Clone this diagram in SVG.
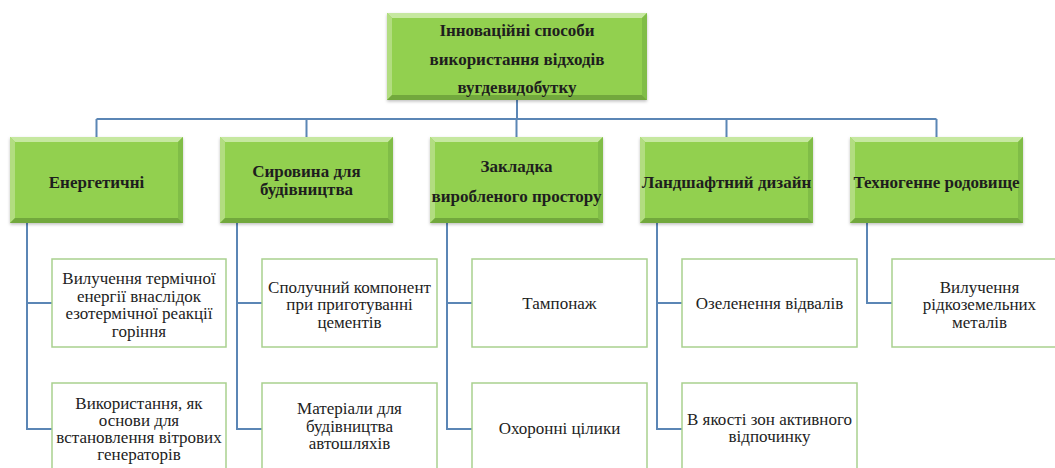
<svg xmlns="http://www.w3.org/2000/svg" width="1055" height="468" viewBox="0 0 1055 468">
<style>
.bg{fill:#ffffff}
.conn{fill:none;stroke:#5b86b5;stroke-width:2}
.gbox{fill:#92d050}
.bt{fill:#c6e8a0}.bl{fill:#b2dd80}.br{fill:#80bd47}.bb{fill:#72a83c}
.h{font-weight:bold;font-size:17px;fill:#1e1e1e;text-anchor:middle}
.wbox{fill:#ffffff;stroke:#a9d18e;stroke-width:1.5}
.t{font-size:17px;fill:#222222;text-anchor:middle}
</style>
<defs>
<filter id="sh" x="-10%" y="-10%" width="120%" height="130%">
<feDropShadow dx="0" dy="1.5" stdDeviation="1.5" flood-color="#000000" flood-opacity="0.25"/>
</filter>
<g id="bev">
<rect class="gbox" x="0" y="0" width="173" height="86"/>
<polygon class="bt" points="0,0 173,0 168,5 5,5"/>
<polygon class="bl" points="0,0 5,5 5,81 0,86"/>
<polygon class="br" points="173,0 173,86 168,81 168,5"/>
<polygon class="bb" points="0,86 173,86 168,81 5,81"/>
</g>
</defs>
<rect class="bg" x="0" y="0" width="1055" height="468"/>
<g id="connectors">
<path class="conn" d="M517,100 V119 M96.5,119 H936.5 M96.5,119 V137 M306.5,119 V137 M516.5,119 V137 M726.5,119 V137 M936.5,119 V137"/>
<path class="conn" d="M27,223 V429 H52 M27,303 H52"/>
<path class="conn" d="M237,223 V429 H262 M237,303 H262"/>
<path class="conn" d="M447,223 V429 H472 M447,303 H472"/>
<path class="conn" d="M657,223 V429 H682 M657,303 H682"/>
<path class="conn" d="M867,223 V303 H892"/>
</g>
<g font-family="Liberation Serif, Times New Roman, DejaVu Serif, serif">
<g id="root">
<g filter="url(#sh)">
<rect class="gbox" x="387" y="13" width="260" height="87"/>
<polygon class="bt" points="387,13 647,13 642,18 392,18"/>
<polygon class="bl" points="387,13 392,18 392,95 387,100"/>
<polygon class="br" points="647,13 647,100 642,95 642,18"/>
<polygon class="bb" points="387,100 647,100 642,95 392,95"/>
</g>
<text class="h" x="517" y="36">Інноваційні способи</text>
<text class="h" x="517" y="65">використання відходів</text>
<text class="h" x="517" y="93">вугдевидобутку</text>
</g>
<g id="n1">
<use href="#bev" x="10" y="137" filter="url(#sh)"/>
<text class="h" x="96.5" y="188">Енергетичні</text>
</g>
<g id="n2">
<use href="#bev" x="220" y="137" filter="url(#sh)"/>
<text class="h" x="306.5" y="177">Сировина для</text>
<text class="h" x="306.5" y="195">будівництва</text>
</g>
<g id="n3">
<use href="#bev" x="430" y="137" filter="url(#sh)"/>
<text class="h" x="516.5" y="172">Закладка</text>
<text class="h" x="516.5" y="202">виробленого простору</text>
</g>
<g id="n4">
<use href="#bev" x="640" y="137" filter="url(#sh)"/>
<text class="h" x="726.5" y="188">Ландшафтний дизайн</text>
</g>
<g id="n5">
<use href="#bev" x="850" y="137" filter="url(#sh)"/>
<text class="h" x="936.5" y="188">Техногенне родовище</text>
</g>
<g id="n1a">
<rect class="wbox" x="52" y="259" width="174" height="88"/>
<text class="t" x="139" y="284">Вилучення термічної</text>
<text class="t" x="139" y="301.5">енергії внаслідок</text>
<text class="t" x="139" y="319">езотермічної реакції</text>
<text class="t" x="139" y="336.5">горіння</text>
</g>
<g id="n1b">
<rect class="wbox" x="52" y="383" width="174" height="88"/>
<text class="t" x="139" y="409">Використання, як</text>
<text class="t" x="139" y="426">основи для</text>
<text class="t" x="139" y="443">встановлення вітрових</text>
<text class="t" x="139" y="460">генераторів</text>
</g>
<g id="n2a">
<rect class="wbox" x="262" y="259" width="175" height="88"/>
<text class="t" x="349.5" y="292.5">Сполучний компонент</text>
<text class="t" x="349.5" y="310">при приготуванні</text>
<text class="t" x="349.5" y="327.5">цементів</text>
</g>
<g id="n2b">
<rect class="wbox" x="262" y="383" width="175" height="88"/>
<text class="t" x="349.5" y="414">Матеріали для</text>
<text class="t" x="349.5" y="431.5">будівництва</text>
<text class="t" x="349.5" y="449">автошляхів</text>
</g>
<g id="n3a">
<rect class="wbox" x="472" y="259" width="175" height="88"/>
<text class="t" x="559.5" y="309">Тампонаж</text>
</g>
<g id="n3b">
<rect class="wbox" x="472" y="383" width="175" height="88"/>
<text class="t" x="559.5" y="434">Охоронні цілики</text>
</g>
<g id="n4a">
<rect class="wbox" x="682" y="259" width="175" height="88"/>
<text class="t" x="769.5" y="309">Озеленення відвалів</text>
</g>
<g id="n4b">
<rect class="wbox" x="682" y="383" width="175" height="88"/>
<text class="t" x="769.5" y="425">В якості зон активного</text>
<text class="t" x="769.5" y="442">відпочинку</text>
</g>
<g id="n5a">
<rect class="wbox" x="892" y="259" width="175" height="88"/>
<text class="t" x="979.5" y="292.5">Вилучення</text>
<text class="t" x="979.5" y="310">рідкоземельних</text>
<text class="t" x="979.5" y="327.5">металів</text>
</g>
</g>
</svg>
